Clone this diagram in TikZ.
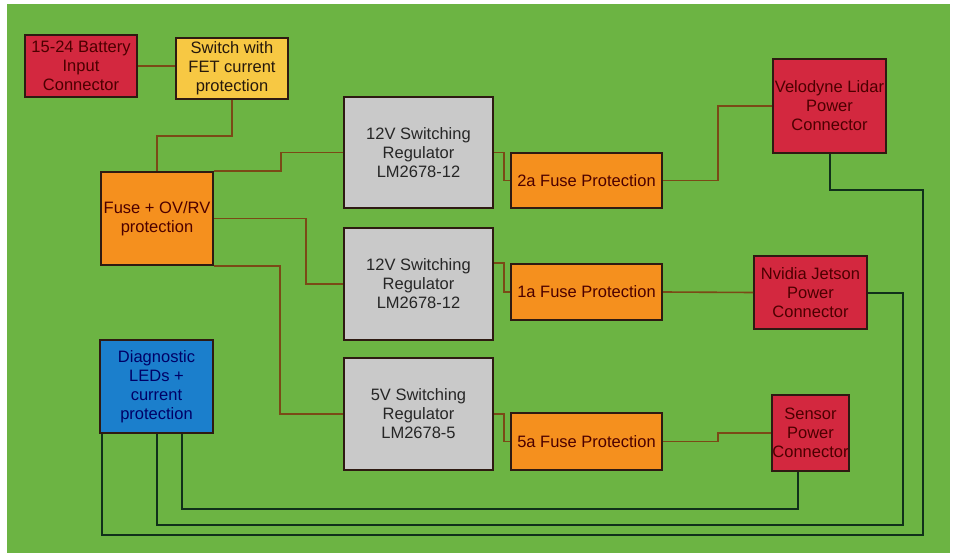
\documentclass[tikz,border=0pt]{standalone}
\usepackage{fontspec}
\setmainfont{Liberation Sans}
\definecolor{bggreen}{HTML}{6CB443}
\definecolor{boxred}{HTML}{D3283F}
\definecolor{boxyellow}{HTML}{F7C843}
\definecolor{boxorange}{HTML}{F5901E}
\definecolor{boxgray}{HTML}{C9C9C9}
\definecolor{boxblue}{HTML}{1B7FCC}
\definecolor{wirebrown}{HTML}{7A4A16}
\definecolor{wiredark}{HTML}{10301A}
\definecolor{edge}{HTML}{2E1A12}
\begin{document}
\begin{tikzpicture}[x=1pt,y=-1pt,
  blk/.style={draw=edge, line width=2pt, rectangle, inner sep=0pt, align=center,
    font=\fontsize{16.5}{19}\selectfont},
  redblk/.style={blk, fill=boxred, text=black!70!red},
  yelblk/.style={blk, fill=boxyellow, text=black!80!brown},
  orgblk/.style={blk, fill=boxorange, text=black!70!red},
  grayblk/.style={blk, fill=boxgray, text=black!85},
  blueblk/.style={blk, fill=boxblue, text=black!60!blue},
  bwire/.style={draw=wirebrown, line width=1.6pt},
  dwire/.style={draw=wiredark, line width=2pt}]
\useasboundingbox (0,0) rectangle (955,556);
\fill[white] (0,0) rectangle (955,556);
\fill[bggreen] (7,4) rectangle (950,553);
% blocks
\node[redblk, minimum width=112pt, minimum height=62pt] (bat) at (81,66) {15-24 Battery\\Input\\Connector};
\node[yelblk, minimum width=112pt, minimum height=61pt] (sw) at (232,68.5) {Switch with\\FET current\\protection};
\node[orgblk, minimum width=112pt, minimum height=93pt] (fuse) at (157,218.5) {Fuse + OV/RV\\protection};
\node[grayblk, minimum width=149pt, minimum height=111pt] (r1) at (418.5,152.5) {12V Switching\\Regulator\\LM2678-12};
\node[grayblk, minimum width=149pt, minimum height=112pt] (r2) at (418.5,284) {12V Switching\\Regulator\\LM2678-12};
\node[grayblk, minimum width=149pt, minimum height=112pt] (r3) at (418.5,414) {5V Switching\\Regulator\\LM2678-5};
\node[orgblk, minimum width=151pt, minimum height=55pt] (f2) at (586.5,180.5) {2a Fuse Protection};
\node[orgblk, minimum width=151pt, minimum height=56pt] (f1) at (586.5,292) {1a Fuse Protection};
\node[orgblk, minimum width=151pt, minimum height=57pt] (f5) at (586.5,441.5) {5a Fuse Protection};
\node[redblk, minimum width=113pt, minimum height=94pt] (velo) at (829.5,106) {Velodyne Lidar\\Power\\Connector};
\node[redblk, minimum width=113pt, minimum height=73pt] (nv) at (810.5,292.5) {Nvidia Jetson\\Power\\Connector};
\node[redblk, minimum width=75pt, minimum height=76pt] (sen) at (810.5,433) {Sensor\\Power\\Connector};
\node[blueblk, minimum width=113pt, minimum height=93pt] (diag) at (156.5,386.5) {Diagnostic\\LEDs +\\current\\protection};
% brown wiring
\draw[bwire] (bat.east) -- (bat.east -| sw.west);
\draw[bwire] (sw.south) -- ++(0,36) -| (fuse.north);
\draw[bwire] (fuse.north east) -- ++(67,0) |- (r1.west);
\draw[bwire] (fuse.east) -- ++(92,0) |- (r2.west);
\draw[bwire] (fuse.south east) -- ++(66,0) |- (r3.west);
\draw[bwire] (r1.east) -- ++(10,0) |- (f2.west);
\draw[bwire] ([yshift=21pt]r2.east) -- ++(10,0) |- (f1.west);
\draw[bwire] (r3.east) -- ++(10,0) |- (f5.west);
\draw[bwire] (f2.east) -- ++(55,0) |- (velo.west);
\draw[bwire] (f1.east) -- (nv.west);
\draw[bwire] (f5.east) -- ++(55,0) |- (sen.west);
% dark wiring
\coordinate (c1) at (923,535);
\coordinate (c2) at (903,525);
\draw[dwire] (velo.south) -- ++(0,36) -| (c1) -| ([xshift=3pt]diag.south west);
\draw[dwire] (nv.east) -| (c2) -| (diag.south);
\draw[dwire] ([xshift=-13pt]sen.south) -- ++(0,37) -| ([xshift=25pt]diag.south);
\end{tikzpicture}
\end{document}
